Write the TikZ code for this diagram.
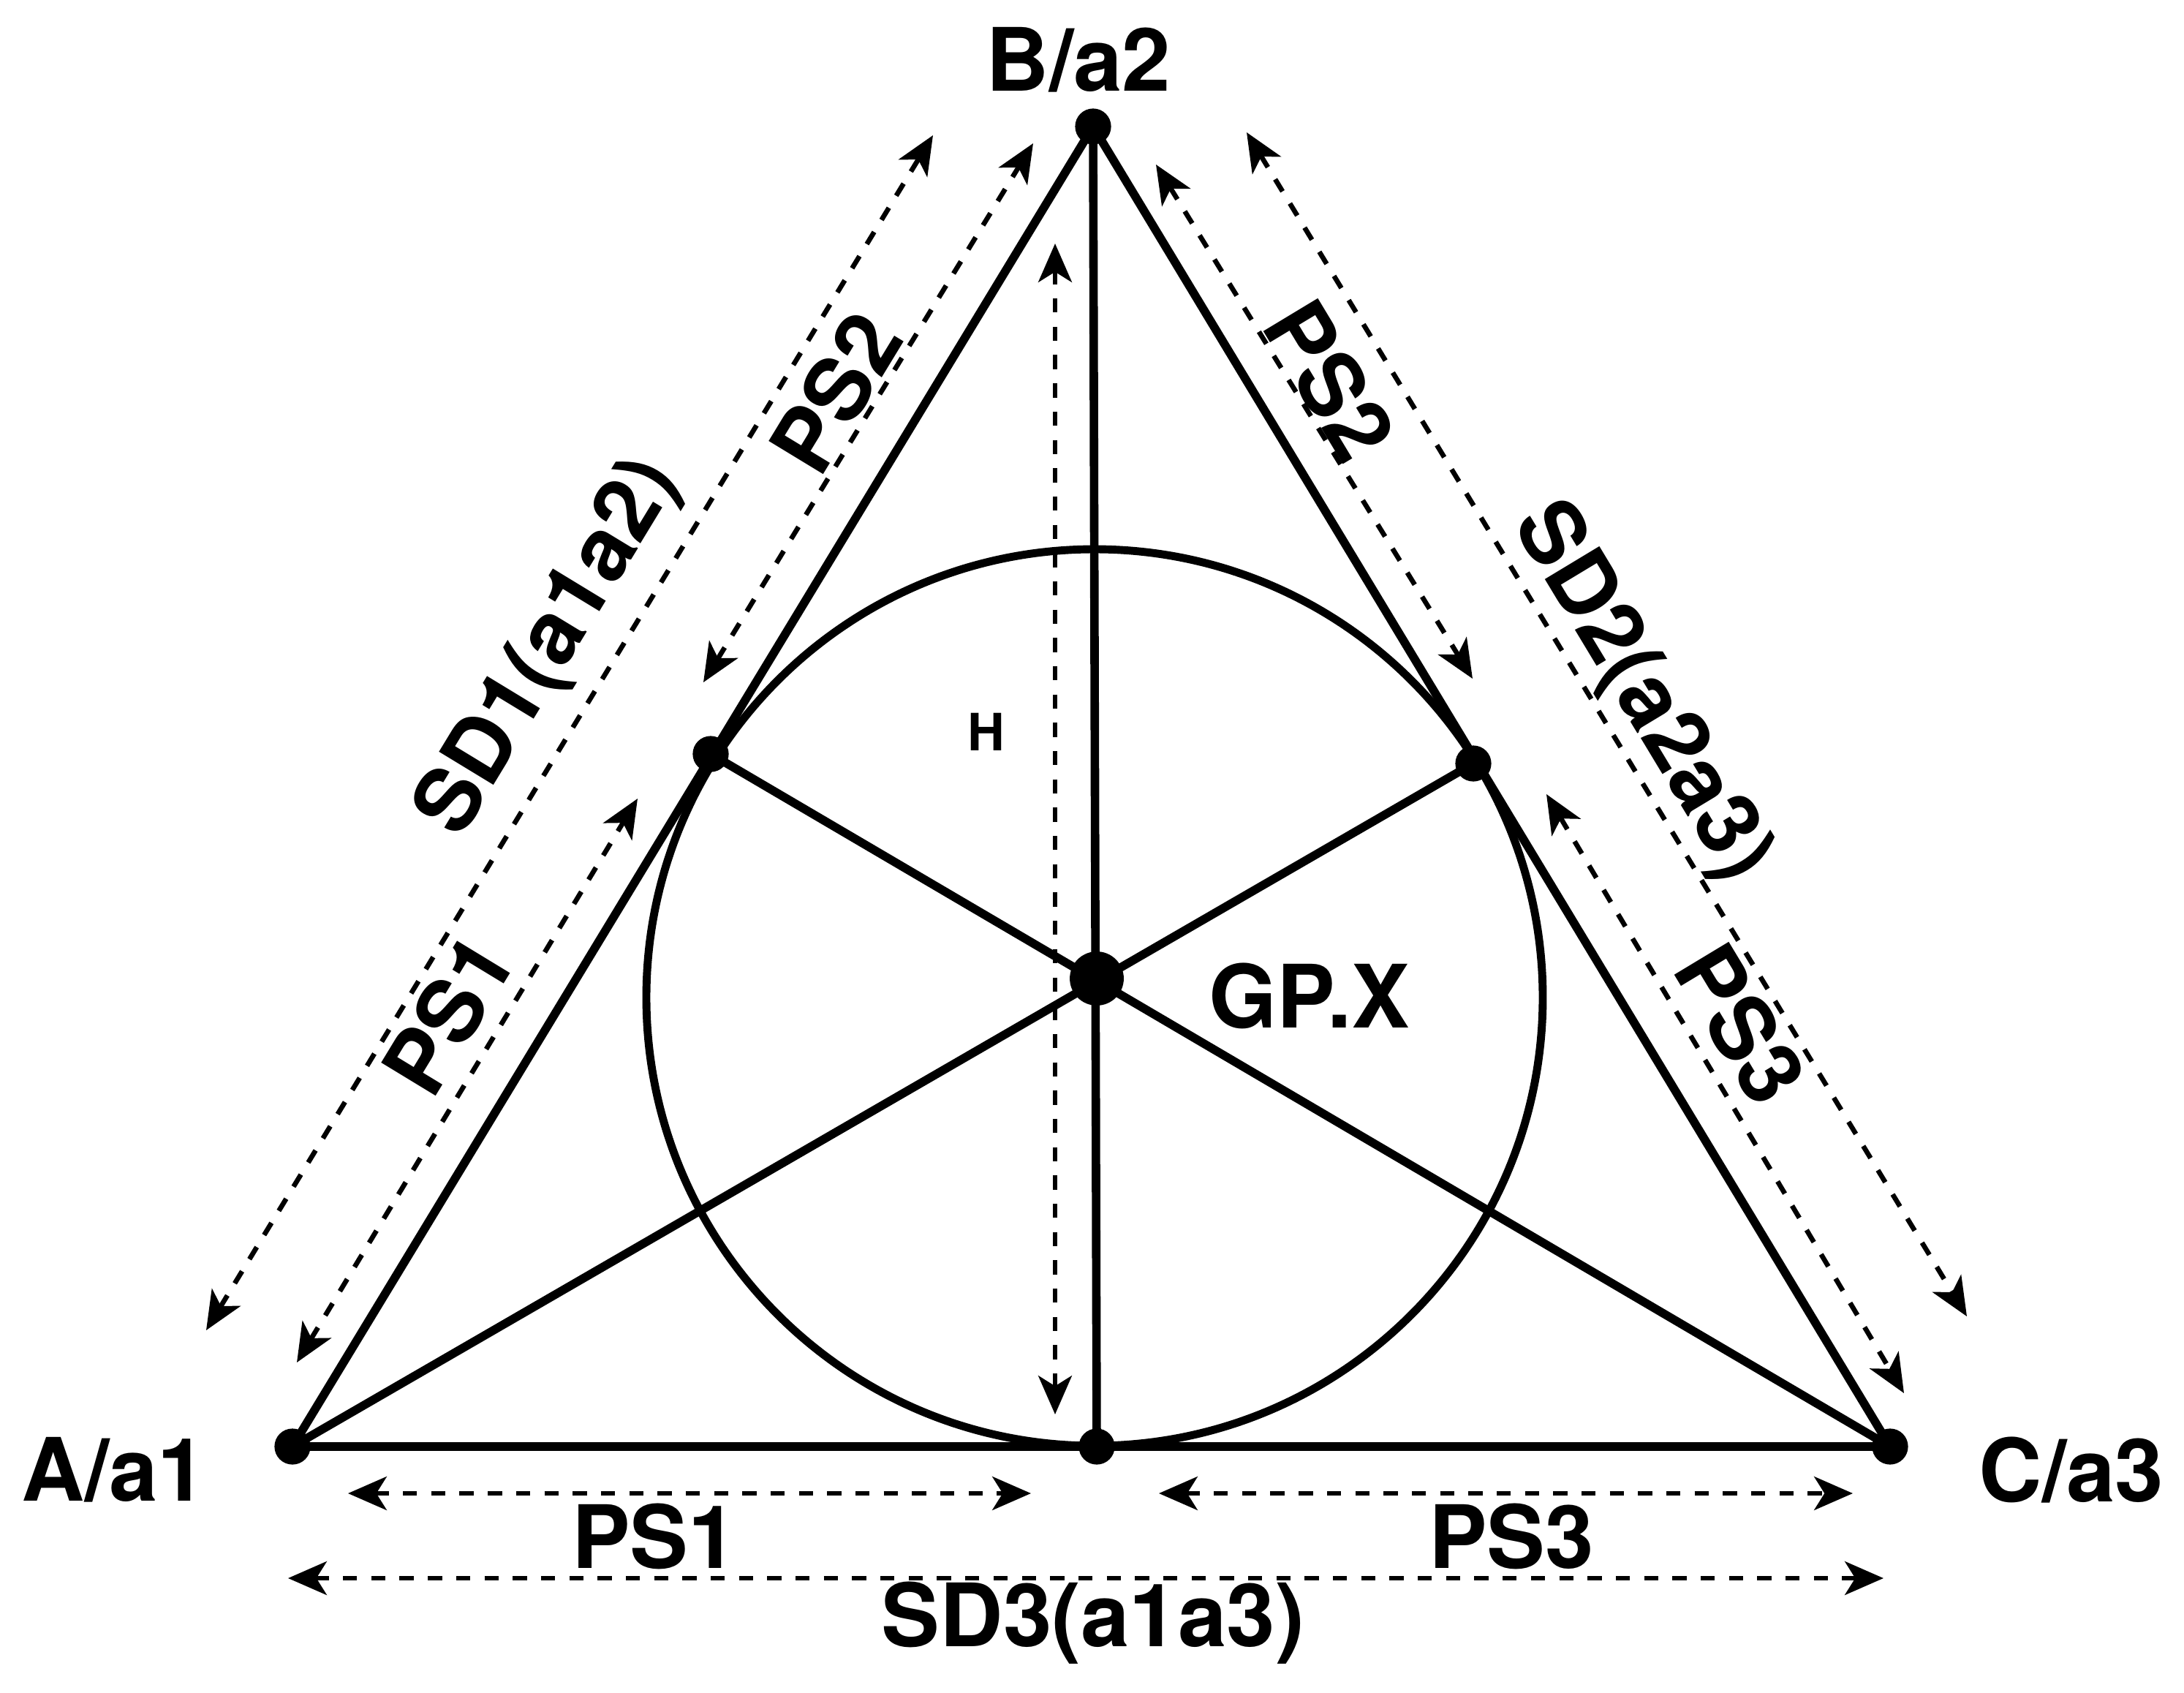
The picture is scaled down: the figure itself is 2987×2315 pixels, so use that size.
\documentclass[tikz,border=0pt]{standalone}
\usepackage{fontspec}
\setmainfont{TeX Gyre Heros}
\usetikzlibrary{arrows.meta}
\begin{document}
\begin{tikzpicture}[x=0.01cm,y=-0.01cm,
  edgeline/.style={line width=3.3pt, line cap=round},
  dim/.style={line width=1.9pt, dash pattern=on 5.5pt off 5.5pt,
    {Stealth[length=15pt,width=13pt,inset=4pt]}-{Stealth[length=15pt,width=13pt,inset=4pt]}},
  vdot/.style={circle, fill=black, inner sep=0pt, minimum size=14pt},
  lbl/.style={font=\fontsize{34}{40}\selectfont\bfseries, inner sep=0pt},
  smalllbl/.style={font=\fontsize{20}{24}\selectfont\bfseries, inner sep=0pt}
]
\useasboundingbox (0,0) rectangle (2987,2315);
% points
\coordinate (O) at (1497,1364);
\node[vdot] (A) at (400,1978) {};
\node[vdot] (B) at (1495,173) {};
\node[vdot] (C) at (2585,1978) {};
\node[vdot] (M) at (1500,1978) {};
\node[vdot] (T1) at (972,1031) {};
\node[vdot] (T2) at (2015,1044) {};
\node[vdot, minimum size=21pt] (G) at (1500,1338) {};
% triangle, circle and medians
\draw[edgeline] (A.center) -- (B.center) -- (C.center) -- (A.center);
\draw[edgeline, line width=3.1pt] (O) circle [radius=613];
\draw[edgeline] (B.center) -- (M.center);
\draw[edgeline] (T1.center) -- (C.center);
\draw[edgeline] (T2.center) -- (A.center);
% height arrow
\coordinate (h1) at (1443,333);
\coordinate (h2) at (1443,1934);
\draw[dim] (h1) -- (h2);
% left side dimension arrows
\coordinate (sd1a) at (282,1819); \coordinate (sd1b) at (1276,185);
\coordinate (ps2la) at (962,933); \coordinate (ps2lb) at (1413,196);
\coordinate (ps1la) at (406,1863); \coordinate (ps1lb) at (872,1092);
\draw[dim] (sd1a) -- (sd1b);
\draw[dim] (ps2la) -- (ps2lb);
\draw[dim] (ps1la) -- (ps1lb);
% right side dimension arrows
\coordinate (sd2a) at (1705,181); \coordinate (sd2b) at (2690,1800);
\coordinate (ps2ra) at (1581,225); \coordinate (ps2rb) at (2014,928);
\coordinate (ps3ra) at (2115,1086); \coordinate (ps3rb) at (2604,1905);
\draw[dim] (sd2a) -- (sd2b);
\draw[dim] (ps2ra) -- (ps2rb);
\draw[dim] (ps3ra) -- (ps3rb);
% bottom dimension arrows
\coordinate (ps1ba) at (476,2042); \coordinate (ps1bb) at (1410,2042);
\coordinate (ps3ba) at (1585,2042); \coordinate (ps3bb) at (2534,2042);
\coordinate (sd3a) at (394,2158); \coordinate (sd3b) at (2576,2158);
\draw[dim] (ps1ba) -- (ps1bb);
\draw[dim] (ps3ba) -- (ps3bb);
\draw[dim] (sd3a) -- (sd3b);
% labels
\node[lbl] (lB) at (1475,82) {B/a2};
\node[lbl] (lA) at (156,2010) {A/a1};
\node[lbl] (lC) at (2833,2010) {C/a3};
\node[lbl] (lG) at (1791,1362) {GP.X};
\node[smalllbl] (lH) at (1349,1001) {H};
\node[lbl, rotate=58.7] (lSD1) at (752,886) {SD1(a1a2)};
\node[lbl, rotate=58.7] (lPS2a) at (1143,537) {PS2};
\node[lbl, rotate=58.7] (lPS1a) at (613,1387) {PS1};
\node[lbl, rotate=-58.9] (lPS2b) at (1819,520) {PS2};
\node[lbl, rotate=-58.9] (lSD2) at (2244,947) {SD2(a2a3)};
\node[lbl, rotate=-58.9] (lPS3a) at (2381,1400) {PS3};
\node[lbl] (lPS1b) at (895,2101) {PS1};
\node[lbl] (lPS3b) at (2067,2101) {PS3};
\node[lbl] (lSD3) at (1495,2219) {SD3(a1a3)};
\end{tikzpicture}
\end{document}
